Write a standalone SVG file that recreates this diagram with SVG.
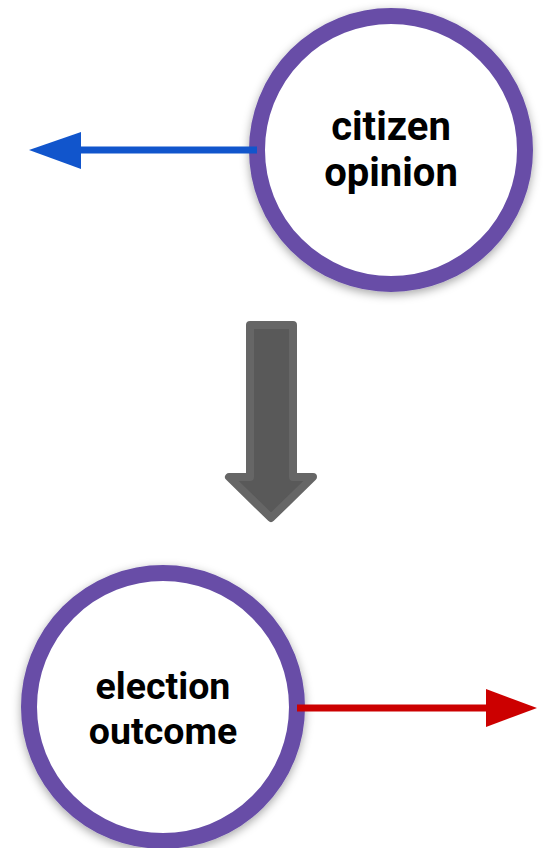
<svg xmlns="http://www.w3.org/2000/svg" width="543" height="848" viewBox="0 0 543 848">
<style>
.node circle{fill:#fff;stroke:#674ea7;stroke-width:16;filter:url(#sh)}
.node text{font-family:Roboto,"Liberation Sans",sans-serif;font-weight:bold;font-size:40px;fill:#000;text-anchor:middle}
#election-outcome text{font-size:37.5px}
</style>
<defs>
<filter id="sh" x="-20%" y="-20%" width="140%" height="140%">
<feDropShadow dx="0" dy="3" stdDeviation="5" flood-color="#000" flood-opacity="0.35"/>
</filter>
</defs>
<g id="citizen-opinion" class="node">
<circle cx="391" cy="150" r="134"/>
<text x="391" y="140">citizen</text>
<text x="391" y="186">opinion</text>
</g>
<g id="election-outcome" class="node">
<circle cx="163" cy="707" r="134"/>
<text x="163" y="699">election</text>
<text x="163" y="744">outcome</text>
</g>
<g id="connectors">
<line x1="257" y1="150" x2="78" y2="150" stroke="#1155cc" stroke-width="7"/>
<polygon points="29,150 81,132 81,169" fill="#1155cc"/>
<line x1="297" y1="708" x2="488" y2="708" stroke="#cc0000" stroke-width="7"/>
<polygon points="537,708 486,689 486,727" fill="#cc0000"/>
<path d="M250,325 L293,325 L293,477 L313,477 L271,518 L229,477 L250,477 Z" fill="#595959" stroke="#666666" stroke-width="8" stroke-linejoin="round"/>
</g>
</svg>
